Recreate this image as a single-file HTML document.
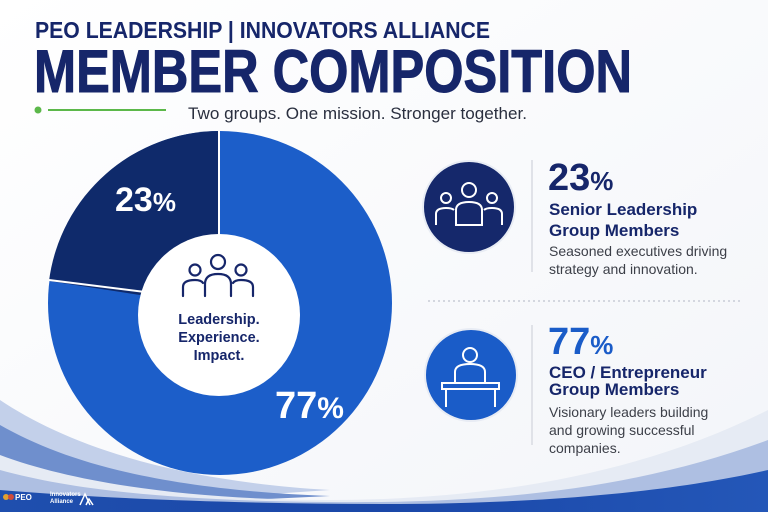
<!DOCTYPE html>
<html><head><meta charset="utf-8"><style>
body{margin:0;width:768px;height:512px;overflow:hidden;background:#fff;font-family:"Liberation Sans",sans-serif}
svg{display:block}
</style></head><body>
<svg width="768" height="512" viewBox="0 0 768 512" xmlns="http://www.w3.org/2000/svg">
<defs>
<linearGradient id="bg" x1="0" y1="0" x2="1" y2="1"><stop offset="0" stop-color="#ffffff"/><stop offset="1" stop-color="#f3f5f9"/></linearGradient>
<linearGradient id="wv" x1="0" y1="0" x2="1" y2="0"><stop offset="0" stop-color="#1f4fae"/><stop offset="0.5" stop-color="#1a47a8"/><stop offset="1" stop-color="#2457b8"/></linearGradient>
</defs>
<rect width="768" height="512" fill="url(#bg)"/>
<!-- waves -->
<path d="M0,400 C60,440 160,480 330,490 L0,512 Z" fill="#c3d0ea"/>
<path d="M0,425 C70,465 170,490 330,496 L0,512 Z" fill="#6f8fcd"/>
<path d="M0,455 C80,485 200,500 330,500 C500,500 650,470 768,410 L768,512 L0,512 Z" fill="#e6ebf4"/>
<path d="M0,470 C90,495 220,503 380,502 C540,500 660,480 768,440 L768,512 L0,512 Z" fill="#aebfe2"/>
<path d="M0,490 C120,500 260,504 400,504 C560,503 680,490 768,470 L768,512 L0,512 Z" fill="url(#wv)"/>
<!-- header -->
<text x="35" y="38" font-size="23" font-weight="bold" fill="#16266a" textLength="455" lengthAdjust="spacingAndGlyphs">PEO LEADERSHIP | INNOVATORS ALLIANCE</text>
<text x="34" y="92" font-size="60" font-weight="bold" fill="#16266a" stroke="#16266a" stroke-width="1" textLength="598" lengthAdjust="spacingAndGlyphs">MEMBER COMPOSITION</text>
<circle cx="38" cy="110" r="3.5" fill="#5cb84a"/>
<line x1="48" y1="110" x2="166" y2="110" stroke="#5cb84a" stroke-width="2"/>
<text x="188" y="119" font-size="17" fill="#2a2f3f" textLength="339" lengthAdjust="spacingAndGlyphs">Two groups. One mission. Stronger together.</text>
<!-- donut -->
<circle cx="220" cy="303" r="172" fill="#1c5ec9"/>
<path d="M220,131 A172,172 0 0 0 49,281 L140,295 L220,235 Z" fill="#0f2a6b"/>
<line x1="219" y1="131" x2="219" y2="240" stroke="#fff" stroke-width="2"/>
<line x1="49" y1="280" x2="145" y2="292" stroke="#fff" stroke-width="2"/>
<circle cx="219" cy="315" r="81" fill="#fff"/>
<text x="115" y="211" font-size="34" font-weight="bold" fill="#fff">23<tspan font-size="26">%</tspan></text>
<text x="275" y="418" font-size="38" font-weight="bold" fill="#fff">77<tspan font-size="30">%</tspan></text>
<g fill="none" stroke="#16266a" stroke-width="2.2" stroke-linecap="round">
<circle cx="218" cy="262" r="7"/><path d="M205,296 V284 Q205,274 218,274 Q231,274 231,284 V296"/>
<circle cx="195" cy="270" r="5.5"/><path d="M183,296 V287 Q183,280 195,280 Q201,280 203,283"/>
<circle cx="241" cy="270" r="5.5"/><path d="M253,296 V287 Q253,280 241,280 Q235,280 233,283"/>
</g>
<g font-size="14.5" font-weight="bold" fill="#16266a" text-anchor="middle">
<text x="219" y="324">Leadership.</text><text x="219" y="342">Experience.</text><text x="219" y="360">Impact.</text>
</g>
<!-- right panel -->
<circle cx="469" cy="207" r="46" fill="#15286b" stroke="#e8ecf4" stroke-width="2"/>
<g fill="none" stroke="#fff" stroke-width="2">
<circle cx="469" cy="190" r="7"/><path d="M456,225 V210 Q456,202 469,202 Q482,202 482,210 V225 Z"/>
<circle cx="446" cy="198" r="5"/><path d="M436,225 V214 Q436,208 446,208 Q452,208 454,210"/>
<circle cx="492" cy="198" r="5"/><path d="M502,225 V214 Q502,208 492,208 Q486,208 484,210"/>
</g>
<line x1="532" y1="160" x2="532" y2="272" stroke="#d8dbe2" stroke-width="1.5"/>
<text x="548" y="190" font-size="38" font-weight="bold" fill="#16266a">23<tspan font-size="26">%</tspan></text>
<text x="549" y="215" font-size="17" font-weight="bold" fill="#16266a">Senior Leadership</text>
<text x="549" y="236" font-size="17" font-weight="bold" fill="#16266a">Group Members</text>
<text x="549" y="256" font-size="14" fill="#3c3f48">Seasoned executives driving</text>
<text x="549" y="274" font-size="14" fill="#3c3f48">strategy and innovation.</text>
<line x1="428" y1="301" x2="740" y2="301" stroke="#c8ccd6" stroke-width="1.5" stroke-dasharray="2,3"/>
<circle cx="471" cy="375" r="46" fill="#1a5cc8" stroke="#e8ecf4" stroke-width="2"/>
<g fill="none" stroke="#fff" stroke-width="2">
<circle cx="470" cy="355" r="7"/><path d="M455,383 V372 Q455,364 470,364 Q485,364 485,372 V383"/>
<rect x="442" y="383" width="57" height="6"/><path d="M446,389 V407 M495,389 V407"/>
</g>
<line x1="532" y1="325" x2="532" y2="445" stroke="#d8dbe2" stroke-width="1.5"/>
<text x="548" y="354" font-size="38" font-weight="bold" fill="#1a5cc8">77<tspan font-size="26">%</tspan></text>
<text x="549" y="378" font-size="17" font-weight="bold" fill="#16266a">CEO / Entrepreneur</text>
<text x="549" y="395" font-size="17" font-weight="bold" fill="#16266a">Group Members</text>
<text x="549" y="417" font-size="14" fill="#3c3f48">Visionary leaders building</text>
<text x="549" y="435" font-size="14" fill="#3c3f48">and growing successful</text>
<text x="549" y="453" font-size="14" fill="#3c3f48">companies.</text>
<!-- footer logos -->
<circle cx="6" cy="497" r="3" fill="#e0a030"/><circle cx="11" cy="497" r="3" fill="#d04a3a"/>
<text x="15" y="500" font-size="8" font-weight="bold" fill="#fff">PEO</text>
<text x="50" y="496" font-size="6" font-weight="bold" fill="#fff">Innovators</text>
<text x="50" y="503" font-size="6" font-weight="bold" fill="#fff">Alliance</text>
<path d="M80,505 L85,494 L90,505 M86,505 L89,499 L93,505" stroke="#fff" stroke-width="1.5" fill="none"/>
</svg>
</body></html>
